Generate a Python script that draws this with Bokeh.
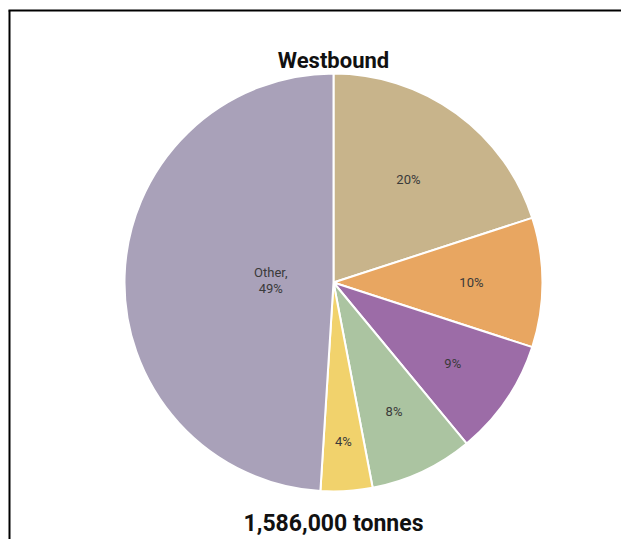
import math
from bokeh.plotting import figure
from bokeh.models import Range1d, ColumnDataSource
from bokeh.core.properties import value
from bokeh.embed import file_html
from bokeh.resources import INLINE

# ---- data ----
categories = ["A", "B", "C", "D", "E", "Other"]
shares = [20, 10, 9, 8, 4, 49]
labels = ["20%", "10%", "9%", "8%", "4%", "Other,\n49%"]
title_text = "Westbound"
total_text = "1,586,000 tonnes"

# ---- style / layout ----
colors = ["#C8B48B", "#E8A661", "#9C6CA7", "#ABC4A1", "#F1D26C", "#A9A1B9"]
label_radius = [0.61, 0.66, 0.69, 0.68, 0.76, 0.30]
W, H = 621, 539
cx, cy, R = 333, 257, 209
FONT = "Roboto"

total = sum(shares)
starts, ends, lx, ly = [], [], [], []
cum = 0.0
for s, lr in zip(shares, label_radius):
    a0 = math.pi / 2 - 2 * math.pi * cum / total
    cum += s
    a1 = math.pi / 2 - 2 * math.pi * cum / total
    starts.append(a0)
    ends.append(a1)
    mid = (a0 + a1) / 2
    lx.append(cx + lr * R * math.cos(mid))
    ly.append(cy + lr * R * math.sin(mid))

src = ColumnDataSource(dict(cat=categories, start=starts, end=ends, color=colors,
                            lx=lx, ly=ly, label=labels))

p = figure(width=W, height=H, output_backend="svg", toolbar_location=None,
           x_range=Range1d(0, W), y_range=Range1d(0, H), min_border=0,
           background_fill_color="white", border_fill_color="white")
p.axis.visible = False
p.grid.visible = False
p.outline_line_color = None

p.wedge(x=cx, y=cy, radius=R, start_angle="start", end_angle="end", direction="clock",
        fill_color="color", line_color="white", line_width=2, source=src)

p.text(x="lx", y="ly", text="label", source=src, text_align="center",
       text_baseline="middle", text_font=value(FONT), text_font_size="13px",
       text_color="#3a3a3a", text_line_height=1.05)

p.text(x=[cx], y=[479], text=[title_text], text_align="center", text_baseline="alphabetic",
       text_font=value(FONT), text_font_style="bold", text_font_size="22px",
       text_color="#111111")
p.text(x=[cx], y=[16], text=[total_text], text_align="center", text_baseline="alphabetic",
       text_font=value(FONT), text_font_style="bold", text_font_size="23px",
       text_color="#111111")

# frame lines (left and top)
p.segment(x0=[9, 8], y0=[0, 529], x1=[9, W + 5], y1=[529, 529], line_color="black", line_width=2)

open("out.html", "w").write(file_html(p, INLINE))
